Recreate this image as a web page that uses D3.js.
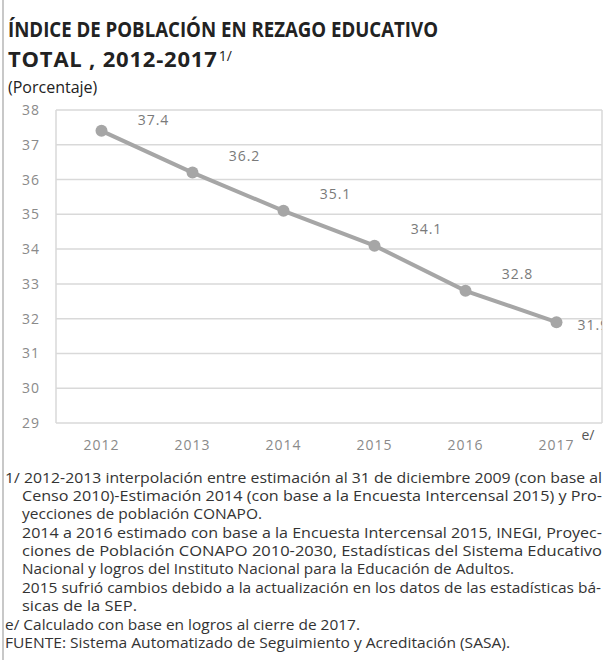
<!DOCTYPE html>
<html><head><meta charset="utf-8">
<script src="https://cdn.jsdelivr.net/npm/d3@7"></script>
<style>body{margin:0;background:#fff}</style>
</head><body>
<svg id="c" width="605" height="660"></svg>
<script>
const years = ["2012","2013","2014","2015","2016","2017"];
const values = [37.4, 36.2, 35.1, 34.1, 32.8, 31.9];
const yTicks = [29,30,31,32,33,34,35,36,37,38];
const titleLines = ["ÍNDICE DE POBLACIÓN EN REZAGO EDUCATIVO", "TOTAL , 2012-2017"];
const subtitle = "(Porcentaje)";
const notes = [
  "1/ 2012-2013 interpolación entre estimación al 31 de diciembre 2009 (con base al",
  "Censo 2010)-Estimación 2014 (con base a la Encuesta Intercensal 2015) y Pro-",
  "yecciones de población CONAPO.",
  "2014 a 2016 estimado con base a la Encuesta Intercensal 2015, INEGI, Proyec-",
  "ciones de Población CONAPO 2010-2030, Estadísticas del Sistema Educativo",
  "Nacional y logros del Instituto Nacional para la Educación de Adultos.",
  "2015 sufrió cambios debido a la actualización en los datos de las estadísticas bá-",
  "sicas de la SEP.",
  "e/ Calculado con base en logros al cierre de 2017.",
  "FUENTE: Sistema Automatizado de Seguimiento y Acreditación (SASA)."
];
const noteIndent = [false,true,true,true,true,true,true,true,false,false];
const noteEnd = [602,602,262,602,602,514,601,137,360,510];

const svg = d3.select("#c");
svg.append("line").attr("x1",3).attr("x2",3).attr("y1",0).attr("y2",660)
  .attr("stroke","#c8c8c8").attr("stroke-width",2);

// title
const tf = "'Open Sans', 'Noto Sans', sans-serif";
svg.append("text").attr("x",8).attr("y",37).text(titleLines[0])
  .attr("font-family",tf).attr("font-weight",700).attr("font-size",22)
  .attr("fill","#222").attr("textLength",430).attr("lengthAdjust","spacingAndGlyphs");
const t2 = svg.append("text").attr("x",8).attr("y",67)
  .attr("font-family",tf).attr("font-weight",700).attr("font-size",22).attr("fill","#222");
t2.append("tspan").text(titleLines[1]).attr("letter-spacing",0.8);
t2.append("tspan").text("1/").attr("font-size",14).attr("dy",-6).attr("font-weight",500).attr("dx",1);
svg.append("text").attr("x",8).attr("y",93).text(subtitle)
  .attr("font-family",tf).attr("font-size",16).attr("fill","#222");

// plot
const L=56, R=602, T=110, B=423;
const x = d3.scalePoint().domain(years).range([L,R]).padding(0.5);
const y = d3.scaleLinear().domain([29,38]).range([B,T]);
const g = svg.append("g");
g.selectAll("line.grid").data(yTicks).join("line")
  .attr("x1",L).attr("x2",R).attr("y1",d=>y(d)).attr("y2",d=>y(d))
  .attr("stroke","#d9d9d9").attr("stroke-width",1.5);
g.append("line").attr("x1",L).attr("x2",L).attr("y1",T).attr("y2",B).attr("stroke","#d9d9d9").attr("stroke-width",1.5);
g.append("line").attr("x1",R).attr("x2",R).attr("y1",T).attr("y2",B).attr("stroke","#d9d9d9").attr("stroke-width",1.5);

const lf = "'Open Sans', sans-serif";
g.selectAll("text.yt").data(yTicks).join("text")
  .attr("x",40).attr("y",d=>y(d)+5).attr("text-anchor","end").text(d=>d)
  .attr("font-family",lf).attr("font-size",14).attr("fill","#8a8a8a").attr("letter-spacing",1);
g.selectAll("text.xt").data(years).join("text")
  .attr("x",d=>x(d)).attr("y",450).attr("text-anchor","middle").text(d=>d)
  .attr("font-family",lf).attr("font-size",14).attr("fill","#8a8a8a").attr("letter-spacing",1);
svg.append("text").attr("x",x(years[5])+25).attr("y",440).text("e/")
  .attr("font-family",lf).attr("font-size",14).attr("fill","#555");

const pts = years.map((yr,i)=>({yr, v:values[i]}));
g.append("path").datum(pts)
  .attr("d", d3.line().x(d=>x(d.yr)).y(d=>y(d.v)))
  .attr("fill","none").attr("stroke","#a6a6a6").attr("stroke-width",4);
g.selectAll("circle").data(pts).join("circle")
  .attr("cx",d=>x(d.yr)).attr("cy",d=>y(d.v)).attr("r",6).attr("fill","#a6a6a6");

const clip = svg.append("clipPath").attr("id","pc");
clip.append("rect").attr("x",L).attr("y",0).attr("width",R-L).attr("height",660);
const last = pts.length-1;
g.append("g").attr("clip-path","url(#pc)").selectAll("text").data(pts).join("text")
  .attr("x",(d,i)=> i===last ? x(d.yr)+21 : x(d.yr)+52)
  .attr("y",(d,i)=> i===last ? y(d.v)+8 : Math.max(y(d.v)-12, T+15))
  .attr("text-anchor",(d,i)=> i===last ? "start":"middle")
  .text(d=>d.v).attr("font-family",lf).attr("font-size",14).attr("fill","#7a7a7a").attr("letter-spacing",1);

// notes
const nf = "'Open Sans', sans-serif";
const ny = [483,501,519,538,556,574,593,611,630,648];
notes.forEach((n,i)=>{
  const xs = noteIndent[i] ? 22 : 5;
  svg.append("text").attr("x",xs).attr("y",ny[i]).text(n)
    .attr("font-family",nf).attr("font-size",14).attr("fill","#333")
    .attr("textLength",noteEnd[i]-xs).attr("lengthAdjust","spacingAndGlyphs");
});
</script>
</body></html>
